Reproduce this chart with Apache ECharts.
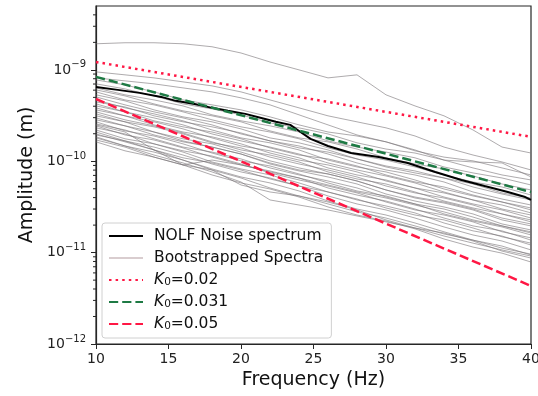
<!DOCTYPE html>
<html><head><meta charset="utf-8">
<script src="https://cdn.jsdelivr.net/npm/echarts@6/dist/echarts.min.js"></script>
<style>html,body{margin:0;padding:0;background:#fff}#c{width:538px;height:396px}</style>
</head><body><div id="c"></div>
<script>
// Frequency grid (Hz) shared by the bootstrapped spectra
const freqs = [10,12,14,16,18,20,22,24,26,28,30,32,34,36,38,40];

// Bootstrapped spectra, amplitude (m)
const boot01 = [1.93e-9,1.98e-9,1.98e-9,1.93e-9,1.79e-9,1.53e-9,1.22e-9,1.0e-9,8.17e-10,8.82e-10,5.33e-10,4.03e-10,3.14e-10,2.20e-10,1.43e-10,1.23e-10];
const boot02 = [9.51e-10,8.82e-10,8.17e-10,7.39e-10,6.68e-10,5.74e-10,4.69e-10,3.84e-10,3.14e-10,2.70e-10,2.32e-10,1.89e-10,1.43e-10,1.17e-10,9.82e-11,8.03e-11];
const boot03 = [8.17e-10,7.58e-10,7.03e-10,6.35e-10,5.74e-10,4.94e-10,4.14e-10,3.22e-10,2.50e-10,1.94e-10,1.63e-10,1.33e-10,1.03e-10,9.82e-11,9.58e-11,6.73e-11];
const boot04 = [7.77e-10,6.85e-10,5.74e-10,4.69e-10,4.14e-10,3.65e-10,3.06e-10,2.50e-10,2.09e-10,1.89e-10,1.63e-10,1.30e-10,1.11e-10,1.01e-10,8.45e-11,7.08e-11];
const boot05 = [7.03e-10,6.19e-10,5.19e-10,4.24e-10,3.74e-10,3.22e-10,2.63e-10,2.32e-10,1.99e-10,1.59e-10,1.36e-10,1.23e-10,1.03e-10,8.45e-11,7.08e-11,6.24e-11];
const boot06 = [6.35e-10,5.33e-10,4.69e-10,4.03e-10,3.22e-10,2.77e-10,2.44e-10,2.09e-10,1.67e-10,1.43e-10,1.26e-10,1.09e-10,8.66e-11,7.45e-11,6.56e-11,5.50e-11];
const boot07 = [6.04e-10,5.19e-10,4.24e-10,3.56e-10,3.14e-10,2.70e-10,2.15e-10,1.80e-10,1.63e-10,1.36e-10,1.09e-10,9.34e-11,8.24e-11,6.90e-11,5.64e-11,4.85e-11];
const boot08 = [5.74e-10,4.69e-10,4.14e-10,3.47e-10,2.84e-10,2.38e-10,2.09e-10,1.76e-10,1.40e-10,1.17e-10,1.03e-10,8.66e-11,7.08e-11,5.93e-11,5.23e-11,4.27e-11];
const boot09 = [5.33e-10,4.58e-10,3.65e-10,3.06e-10,2.70e-10,2.26e-10,1.80e-10,1.59e-10,1.33e-10,1.06e-10,8.88e-11,7.83e-11,6.56e-11,5.23e-11,4.38e-11,3.77e-11];
const boot10 = [5.06e-10,4.14e-10,3.47e-10,2.98e-10,2.50e-10,1.99e-10,1.67e-10,1.47e-10,1.20e-10,9.58e-11,8.03e-11,7.08e-11,5.93e-11,4.61e-11,3.86e-11,3.32e-11];
const boot11 = [4.69e-10,3.84e-10,3.30e-10,2.77e-10,2.20e-10,1.80e-10,1.59e-10,1.33e-10,1.03e-10,8.66e-11,7.64e-11,6.24e-11,4.97e-11,4.17e-11,3.58e-11,2.93e-11];
const boot12 = [4.46e-10,3.93e-10,3.14e-10,2.70e-10,2.38e-10,2.04e-10,1.67e-10,1.40e-10,1.26e-10,1.06e-10,8.66e-11,7.45e-11,6.56e-11,5.64e-11,4.50e-11,3.96e-11];
const boot13 = [4.24e-10,3.47e-10,2.98e-10,2.50e-10,1.99e-10,1.67e-10,1.43e-10,1.20e-10,9.58e-11,8.03e-11,6.90e-11,5.79e-11,4.61e-11,3.77e-11,3.32e-11,2.72e-11];
const boot14 = [4.03e-10,3.47e-10,2.77e-10,2.38e-10,2.09e-10,1.76e-10,1.40e-10,1.17e-10,1.06e-10,8.88e-11,7.08e-11,5.93e-11,5.23e-11,4.27e-11,3.58e-11,3.08e-11];
const boot15 = [3.84e-10,3.14e-10,2.70e-10,2.26e-10,1.80e-10,1.47e-10,1.30e-10,1.09e-10,8.45e-11,7.08e-11,6.24e-11,5.10e-11,4.06e-11,3.41e-11,2.93e-11,2.39e-11];
const boot16 = [3.65e-10,3.14e-10,2.50e-10,2.09e-10,1.85e-10,1.55e-10,1.23e-10,1.03e-10,9.11e-11,7.64e-11,6.08e-11,5.10e-11,4.50e-11,3.77e-11,3.00e-11,2.58e-11];
const boot17 = [3.47e-10,2.84e-10,2.44e-10,2.04e-10,1.63e-10,1.33e-10,1.17e-10,9.82e-11,7.64e-11,6.40e-11,5.64e-11,4.61e-11,3.67e-11,3.08e-11,2.65e-11,2.17e-11];
const boot18 = [3.30e-10,2.70e-10,2.38e-10,1.99e-10,1.59e-10,1.40e-10,1.11e-10,9.34e-11,8.03e-11,6.73e-11,5.36e-11,4.50e-11,3.96e-11,3.32e-11,2.65e-11,2.28e-11];
const boot19 = [3.14e-10,2.70e-10,2.09e-10,1.76e-10,1.55e-10,1.26e-10,1.01e-10,8.45e-11,7.26e-11,6.08e-11,4.85e-11,3.96e-11,3.49e-11,2.93e-11,2.28e-11,1.96e-11];
const boot20 = [2.98e-10,2.44e-10,2.09e-10,1.67e-10,1.43e-10,1.20e-10,9.34e-11,7.83e-11,6.73e-11,5.64e-11,4.38e-11,3.67e-11,3.16e-11,2.65e-11,2.06e-11,1.77e-11];
const boot21 = [2.84e-10,2.44e-10,1.94e-10,1.63e-10,1.43e-10,1.20e-10,9.58e-11,8.03e-11,7.26e-11,6.08e-11,4.85e-11,4.06e-11,3.58e-11,3.00e-11,2.39e-11,2.06e-11];
const boot22 = [2.70e-10,2.15e-10,1.89e-10,1.55e-10,1.23e-10,1.01e-10,8.88e-11,7.26e-11,5.79e-11,4.73e-11,4.17e-11,3.41e-11,2.65e-11,2.22e-11,1.91e-11,1.56e-11];
const boot23 = [2.56e-10,2.20e-10,1.76e-10,1.43e-10,1.26e-10,1.06e-10,8.45e-11,7.08e-11,6.08e-11,5.10e-11,4.06e-11,3.41e-11,3.00e-11,2.45e-11,1.96e-11,1.69e-11];
const boot24 = [2.44e-10,1.94e-10,1.71e-10,1.40e-10,1.11e-10,9.11e-11,7.83e-11,6.56e-11,5.10e-11,4.27e-11,3.67e-11,3.00e-11,2.39e-11,1.96e-11,1.73e-11,1.37e-11];
const boot25 = [2.32e-10,1.99e-10,1.55e-10,1.30e-10,1.14e-10,9.34e-11,7.45e-11,6.24e-11,5.36e-11,4.50e-11,3.58e-11,2.93e-11,2.58e-11,2.17e-11,1.69e-11,1.45e-11];
const boot26 = [2.20e-10,1.76e-10,1.55e-10,1.26e-10,9.82e-11,8.24e-11,7.08e-11,5.79e-11,4.61e-11,3.77e-11,3.24e-11,2.72e-11,2.11e-11,1.73e-11,1.52e-11,1.21e-11];
const boot27 = [2.09e-10,1.67e-10,1.43e-10,1.17e-10,9.34e-11,7.64e-11,6.56e-11,5.36e-11,4.17e-11,3.41e-11,2.93e-11,2.39e-11,1.91e-11,1.56e-11,1.34e-11,1.07e-11];
const boot28 = [1.94e-10,1.67e-10,1.33e-10,1.09e-10,9.58e-11,8.03e-11,6.40e-11,5.36e-11,4.61e-11,3.86e-11,3.08e-11,2.58e-11,2.28e-11,1.86e-11,1.49e-11,1.27e-11];
const boot29 = [1.85e-10,1.47e-10,1.26e-10,1.03e-10,8.24e-11,6.73e-11,5.79e-11,4.73e-11,3.67e-11,3.00e-11,2.58e-11,2.11e-11,1.69e-11,1.37e-11,1.18e-11,9.41e-12];
const boot30 = [1.71e-10,1.43e-10,1.11e-10,9.11e-11,8.03e-11,6.56e-11,5.10e-11,4.17e-11,3.58e-11,2.93e-11,2.28e-11,1.86e-11,1.64e-11,1.34e-11,1.04e-11,8.72e-12];
const boot31 = [1.63e-10,1.30e-10,1.11e-10,9.11e-11,7.08e-11,5.79e-11,4.97e-11,4.06e-11,3.16e-11,2.58e-11,2.22e-11,1.82e-11,1.41e-11,1.15e-11,9.87e-12,7.89e-12];
const boot32 = [2.50e-10,2.09e-10,1.33e-10,9.11e-11,1.03e-10,9.11e-11,7.64e-11,6.56e-11,5.50e-11,4.61e-11,3.96e-11,3.32e-11,2.79e-11,2.28e-11,1.96e-11,1.64e-11];
const boot33 = [1.80e-10,1.47e-10,1.17e-10,9.58e-11,7.64e-11,5.93e-11,3.77e-11,3.32e-11,2.93e-11,2.52e-11,2.17e-11,1.86e-11,1.52e-11,1.27e-11,1.07e-11,9.17e-12];
const boot34 = [1.99e-10,1.63e-10,1.33e-10,1.03e-10,8.03e-11,5.50e-11,4.61e-11,4.17e-11,3.41e-11,2.79e-11,2.39e-11,1.96e-11,1.60e-11,1.37e-11,1.12e-11,9.63e-12];
const bootSpectra = [boot01,boot02,boot03,boot04,boot05,boot06,boot07,boot08,boot09,boot10,boot11,boot12,boot13,boot14,boot15,boot16,boot17,
  boot18,boot19,boot20,boot21,boot22,boot23,boot24,boot25,boot26,boot27,boot28,boot29,boot30,boot31,boot32,boot33,boot34];

// NOLF noise spectrum
const nolfFreq = [10,11.5,13,14.5,15.5,16.8,18,19.1,20.3,21.4,22.4,23.4,24.1,24.8,26,27.6,29.5,31.5,33.4,35.2,36.8,38.4,39.6,40];
const nolfAmp = [6.51e-10,6.04e-10,5.60e-10,5.06e-10,4.58e-10,4.24e-10,3.84e-10,3.56e-10,3.30e-10,2.98e-10,2.70e-10,2.50e-10,2.09e-10,1.76e-10,1.47e-10,1.23e-10,1.11e-10,9.58e-11,7.64e-11,6.24e-11,5.36e-11,4.61e-11,4.06e-11,3.77e-11];

// Kappa model lines (straight on this semi-log plot), end points
const kFreq = [10, 40];
const k002 = [1.22e-9, 1.85e-10];
const k0031 = [8.38e-10, 4.6e-11];
const k005 = [4.8e-10, 4.32e-12];

// Axis ticks
const xTicks = [10, 15, 20, 25, 30, 35, 40];
const yMinorTicks = [2e-12,3e-12,4e-12,5e-12,6e-12,7e-12,8e-12,9e-12,
  2e-11,3e-11,4e-11,5e-11,6e-11,7e-11,8e-11,9e-11,
  2e-10,3e-10,4e-10,5e-10,6e-10,7e-10,8e-10,9e-10,
  2e-9,3e-9,4e-9];

const FONT = 'DejaVu Sans';
const pair = (xs, ys) => xs.map((x, i) => [x, ys[i]]);
const NOSYM = { color: 'transparent', borderColor: 'transparent', borderWidth: 0 };

const series = [];
bootSpectra.forEach(arr => {
  series.push({
    type: 'line', name: 'Bootstrapped Spectra', data: pair(freqs, arr),
    symbol: 'none', silent: true, z: 1,
    lineStyle: { color: 'rgba(120,115,118,0.6)', width: 1 },
    itemStyle: { color: 'rgba(120,115,118,0.6)' }
  });
});
series.push({
  type: 'line', name: 'NOLF Noise spectrum', data: pair(nolfFreq, nolfAmp),
  symbol: 'none', z: 3, lineStyle: { color: '#000', width: 2 }, itemStyle: { color: '#000' }
});
series.push({
  type: 'line', name: 'K0=0.02', data: pair(kFreq, k002), symbol: 'none', z: 4,
  lineStyle: { color: '#ff1744', width: 2.5, type: [2.5, 4.1] }, itemStyle: { color: '#ff1744' }
});
series.push({
  type: 'line', name: 'K0=0.031', data: pair(kFreq, k0031), symbol: 'none', z: 4,
  lineStyle: { color: '#1e7a44', width: 2.5, type: [9.2, 4] }, itemStyle: { color: '#1e7a44' }
});
series.push({
  type: 'line', name: 'K0=0.05', data: pair(kFreq, k005), symbol: 'none', z: 4,
  lineStyle: { color: '#ff1744', width: 2.5, type: [9.2, 4] }, itemStyle: { color: '#ff1744' }
});
series.push({
  type: 'custom', name: 'minorTicks', silent: true, clip: false, z: 10,
  data: yMinorTicks.map(v => [xTicks[0], v]),
  renderItem: (params, api) => {
    const p = api.coord([api.value(0), api.value(1)]);
    return { type: 'line', shape: { x1: p[0] - 3, y1: p[1], x2: p[0], y2: p[1] },
      style: { stroke: '#262626', lineWidth: 1 } };
  }
});

const chart = echarts.init(document.getElementById('c'), null, { renderer: 'canvas' });
chart.setOption({
  animation: false,
  backgroundColor: '#fff',
  textStyle: { fontFamily: FONT },
  grid: { left: 96, right: 7, top: 6, bottom: 52, show: true, borderColor: '#262626', borderWidth: 1.2,
    backgroundColor: 'transparent', containLabel: false, outerBoundsMode: 'none' },
  xAxis: {
    type: 'value', min: 10, max: 40, interval: 5,
    name: 'Frequency (Hz)', nameLocation: 'middle', nameGap: 27,
    nameTextStyle: { fontFamily: FONT, fontSize: 19, color: '#111' },
    axisLine: { show: true, lineStyle: { color: '#262626', width: 1.2 } },
    axisTick: { show: true, inside: false, length: 5, lineStyle: { color: '#262626' } },
    axisLabel: { fontFamily: FONT, fontSize: 14, color: '#222', margin: 8 },
    splitLine: { show: false }
  },
  yAxis: {
    type: 'log', logBase: 10, min: 1e-12, max: 5e-9,
    name: 'Amplitude (m)', nameLocation: 'middle', nameGap: 58,
    nameTextStyle: { fontFamily: FONT, fontSize: 19, color: '#111' },
    axisLine: { show: true, lineStyle: { color: '#262626', width: 1.2 } },
    axisTick: { show: true, inside: false, length: 5, lineStyle: { color: '#262626' } },
    axisLabel: {
      fontFamily: FONT, color: '#222', margin: 10,
      showMaxLabel: false,
      formatter: v => {
        const l = Math.log10(v), e = Math.round(l);
        if (Math.abs(l - e) > 1e-6) return '';
        return '{b|10}{s|\u2212' + Math.abs(e) + '}';
      },
      rich: {
        b: { fontFamily: FONT, fontSize: 14, color: '#222', lineHeight: 20 },
        s: { fontFamily: FONT, fontSize: 10, color: '#222', verticalAlign: 'top', lineHeight: 12 }
      }
    },
    splitLine: { show: false }
  },
  legend: {
    orient: 'vertical', left: 102, top: 223,
    padding: [5, 8, 6, 6], itemWidth: 34, itemHeight: 14, itemGap: 6,
    backgroundColor: 'rgba(255,255,255,0.85)', borderColor: '#d0d0d0', borderWidth: 1, borderRadius: 3,
    itemStyle: NOSYM,
    data: [
      { name: 'NOLF Noise spectrum', itemStyle: NOSYM },
      { name: 'Bootstrapped Spectra', lineStyle: { color: '#d9cdcf' }, itemStyle: NOSYM },
      { name: 'K0=0.02', itemStyle: NOSYM }, { name: 'K0=0.031', itemStyle: NOSYM }, { name: 'K0=0.05', itemStyle: NOSYM }
    ],
    formatter: name => {
      if (name.indexOf('K0=') === 0) return '{i|K}{sub|0}{t|' + name.slice(2) + '}';
      return '{t|' + name + '}';
    },
    textStyle: {
      fontFamily: FONT, fontSize: 15.5, color: '#111', padding: [0, 0, 0, 6], lineHeight: 16,
      rich: {
        t: { fontFamily: FONT, fontSize: 15.5, color: '#111', lineHeight: 16 },
        i: { fontFamily: FONT, fontStyle: 'italic', fontSize: 15.5, color: '#111', lineHeight: 16 },
        sub: { fontFamily: FONT, fontSize: 10.5, color: '#111', lineHeight: 11, verticalAlign: 'bottom' }
      }
    }
  },
  series: series
});
</script></body></html>
